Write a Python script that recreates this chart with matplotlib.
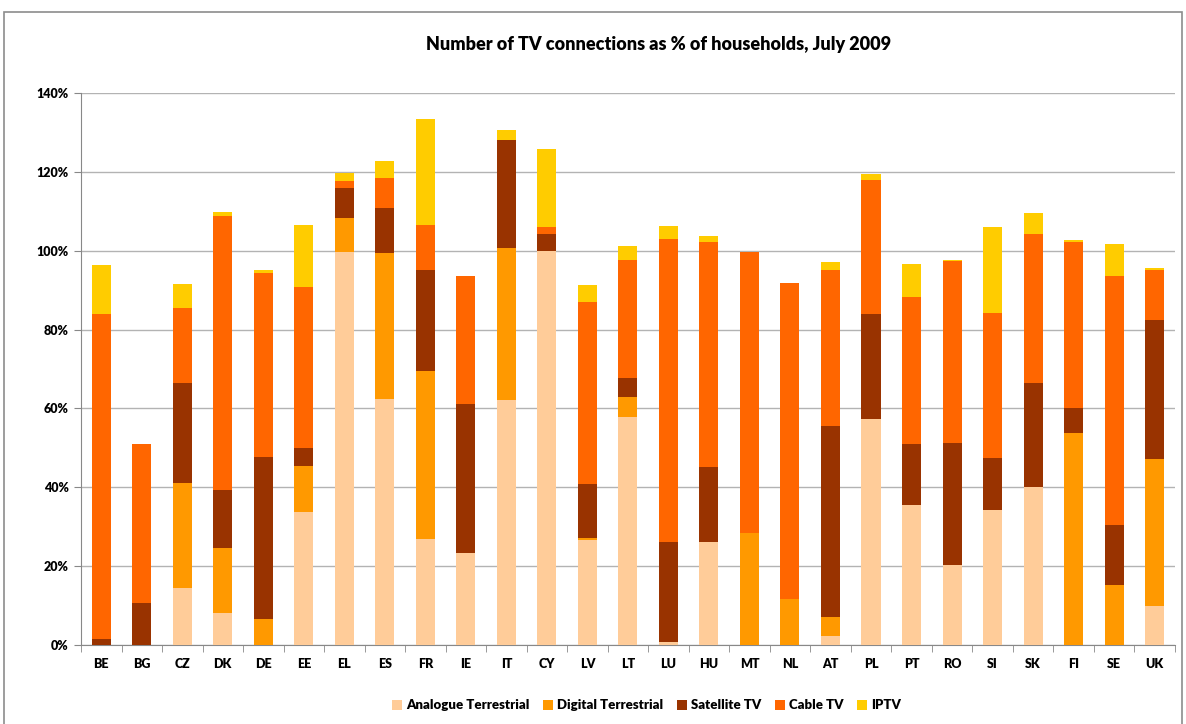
import matplotlib
matplotlib.use("Agg")
import matplotlib.pyplot as plt
from matplotlib.patches import Rectangle
from matplotlib.ticker import FuncFormatter, FixedLocator
import numpy as np

plt.rcParams['font.family'] = ['Lato', 'DejaVu Sans']

# data (% of households)
countries = ["BE", "BG", "CZ", "DK", "DE", "EE", "EL", "ES", "FR", "IE", "IT", "CY", "LV", "LT",
             "LU", "HU", "MT", "NL", "AT", "PL", "PT", "RO", "SI", "SK", "FI", "SE", "UK"]
analogue = [0, 0, 14.5, 8.2, 0, 33.8, 99.7, 62.5, 26.9, 23.4, 62.2, 100.0, 26.6, 57.9,
            0.8, 26.2, 0, 0, 2.3, 57.4, 35.6, 20.4, 34.3, 40.2, 0, 0, 9.9]
digital = [0, 0, 26.7, 16.5, 6.7, 11.6, 8.7, 37.0, 42.6, 0, 38.6, 0, 0.6, 5.1,
           0, 0, 28.4, 11.7, 4.8, 0, 0, 0, 0, 0, 53.9, 15.3, 37.3]
satellite = [1.6, 10.7, 25.3, 14.7, 41.1, 4.6, 7.6, 11.4, 25.5, 37.8, 27.4, 4.3, 13.7, 4.7,
             25.4, 19.0, 0, 0, 48.5, 26.6, 15.4, 30.9, 13.2, 26.3, 6.2, 15.2, 35.3]
cable = [82.4, 40.3, 19.1, 69.4, 46.6, 40.8, 1.8, 7.6, 11.6, 32.4, 0, 1.8, 46.2, 30.0,
         76.8, 57.1, 71.3, 80.2, 39.5, 34.0, 37.3, 46.1, 36.8, 37.8, 42.2, 63.1, 12.6]
iptv = [12.5, 0, 6.0, 1.1, 0.7, 15.8, 2.0, 4.3, 26.9, 0, 2.5, 19.7, 4.3, 3.5,
        3.3, 1.5, 0, 0, 2.1, 1.5, 8.4, 0.3, 21.8, 5.3, 0.4, 8.2, 0.6]

series = [("Analogue Terrestrial", analogue, "#FFCC99"),
          ("Digital Terrestrial", digital, "#FF9900"),
          ("Satellite TV", satellite, "#993300"),
          ("Cable TV", cable, "#FF6600"),
          ("IPTV", iptv, "#FFCC00")]

fig = plt.figure(figsize=(11.86, 7.24), dpi=100)
ax = fig.add_axes([0.0683, 0.1091, 0.9223, 0.7624])

x = np.arange(len(countries))
bottom = np.zeros(len(countries))
for name, vals, col in series:
    ax.bar(x, vals, 0.47, bottom=bottom, color=col, label=name, zorder=3)
    bottom += np.array(vals)

ax.set_xlim(-0.5, len(countries) - 0.5)
ax.set_ylim(0, 140)
ax.set_yticks(np.arange(0, 141, 20))
ax.yaxis.set_major_formatter(FuncFormatter(lambda v, p: f"{v:.0f}%"))
ax.grid(axis="y", color="#B3B3B3", linewidth=1, zorder=0)

ax.set_xticks(x)
ax.set_xticklabels(countries)
ax.xaxis.set_minor_locator(FixedLocator(np.arange(-0.5, len(countries), 1)))
ax.tick_params(axis="x", which="major", length=0, pad=9)
ax.tick_params(axis="x", which="minor", length=5, color="#888888", direction="out")
ax.tick_params(axis="y", length=5, color="#888888", direction="out", pad=4)
for lab in ax.get_xticklabels() + ax.get_yticklabels():
    lab.set_fontsize(9)
    lab.set_fontweight("heavy")

for side in ["top", "right"]:
    ax.spines[side].set_visible(False)
for side in ["left", "bottom"]:
    ax.spines[side].set_color("#888888")

fig.text(0.555, 0.938, "Number of TV connections as % of households, July 2009",
         ha="center", va="center", fontsize=13, fontweight="heavy")

leg = fig.legend(loc="center", bbox_to_anchor=(0.545, 0.026), ncol=5, frameon=False,
                 prop={"size": 9.5, "weight": "heavy"}, handlelength=0.8, handleheight=0.8,
                 handletextpad=0.3, columnspacing=1.0)

# outer chart border
fig.patches.append(Rectangle((0.0034, -0.01), 0.9933, 0.994, transform=fig.transFigure,
                             fill=False, edgecolor="#8C8C8C", linewidth=1.2))

fig.savefig("out.png", dpi=100)
